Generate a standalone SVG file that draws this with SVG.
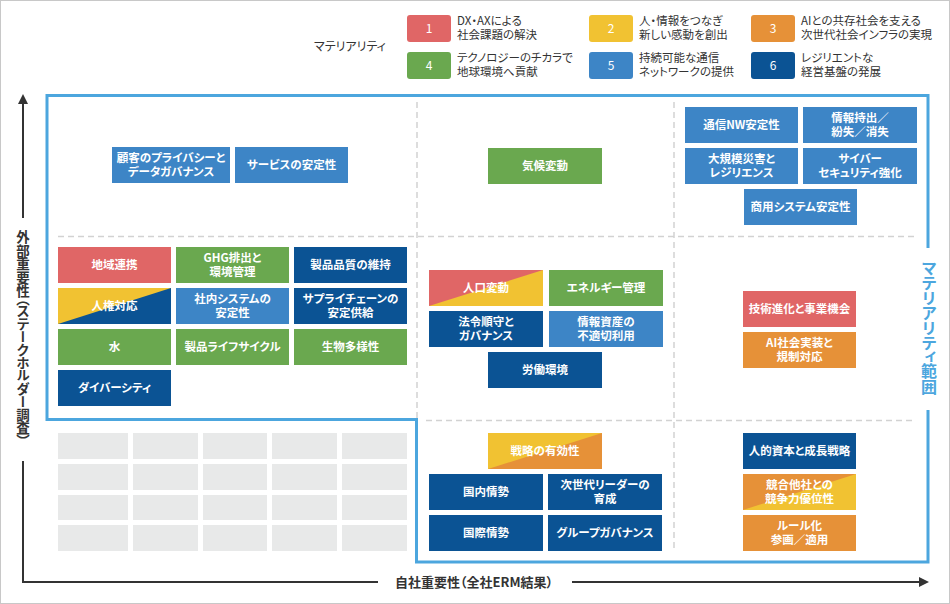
<svg xmlns="http://www.w3.org/2000/svg" width="950" height="604" viewBox="0 0 950 604">
<style>
text{font-family:"Noto Sans CJK JP","Noto Sans",sans-serif;font-feature-settings:"palt"}
.t{font-size:11.5px;font-weight:bold;fill:#fff;text-anchor:middle}
.lg{font-size:11.5px;fill:#333}
.ln{font-size:12px;fill:#fff;text-anchor:middle}
.r{fill:#e06666}.y{fill:#f1c232}.o{fill:#e69138}.g{fill:#6aa84f}.b{fill:#3d85c6}.d{fill:#0b5394}
.gr{fill:#e8e9e9}
.dash{stroke:#d2d2d2;stroke-width:1.5;stroke-dasharray:6 4;fill:none}
.ax{stroke:#333;stroke-width:2;fill:none}
.vt{writing-mode:vertical-rl;font-feature-settings:"vpal";text-anchor:middle;font-weight:bold}
</style>
<defs>
<marker id="arr" viewBox="0 0 10 10" markerUnits="userSpaceOnUse" markerWidth="10" markerHeight="10" refX="4" refY="5" orient="auto">
<path d="M0,0 L10,5 L0,10 z" fill="#333"/>
</marker>
</defs>
<rect x="0.5" y="0.5" width="949" height="603" fill="#fff" stroke="#c8c8c8"/>

<g id="legend">
<text class="lg" x="314" y="51" style="font-size:12px">マテリアリティ</text>
<rect class="r" x="407" y="15" width="44" height="27" rx="3"/><text class="ln" x="429" y="33">1</text>
<text class="lg" x="457" y="25">DX・AXによる</text><text class="lg" x="457" y="39">社会課題の解決</text>
<rect class="y" x="589" y="15" width="44" height="27" rx="3"/><text class="ln" x="611" y="33">2</text>
<text class="lg" x="639" y="25">人・情報をつなぎ</text><text class="lg" x="639" y="39">新しい感動を創出</text>
<rect class="o" x="751" y="15" width="44" height="27" rx="3"/><text class="ln" x="773" y="33">3</text>
<text class="lg" x="801" y="25">AIとの共存社会を支える</text><text class="lg" x="801" y="39">次世代社会インフラの実現</text>
<rect class="g" x="407" y="52" width="44" height="27" rx="3"/><text class="ln" x="429" y="70">4</text>
<text class="lg" x="457" y="62">テクノロジーのチカラで</text><text class="lg" x="457" y="76">地球環境へ貢献</text>
<rect class="b" x="589" y="52" width="44" height="27" rx="3"/><text class="ln" x="611" y="70">5</text>
<text class="lg" x="639" y="62">持続可能な通信</text><text class="lg" x="639" y="76">ネットワークの提供</text>
<rect class="d" x="751" y="52" width="44" height="27" rx="3"/><text class="ln" x="773" y="70">6</text>
<text class="lg" x="801" y="62">レジリエントな</text><text class="lg" x="801" y="76">経営基盤の発展</text>
</g>

<g id="grid">
<path class="dash" d="M417,102 V552 M674,102 V552 M58,236.5 H918 M426,420.5 H912"/>
</g>

<g id="frame">
<path d="M928,248 V95.5 H47 V419.5 H416.5 V562 H928 V410" fill="none" stroke="#4ca6de" stroke-width="3"/>
<text class="vt" x="929" y="328" style="font-size:16px;fill:#4ca6de">マテリアリティ範囲</text>
</g>

<g id="axes">
<path class="ax" d="M23,218 V100" marker-end="url(#arr)"/>
<path class="ax" d="M23,461 V582 H378"/>
<path class="ax" d="M572,582 H923" marker-end="url(#arr)"/>
<text class="vt" x="23" y="336" style="font-size:13.5px;fill:#333">外部重要性（ステークホルダー調査）</text>
<text x="474" y="587" style="font-size:13px;font-weight:bold;fill:#333;text-anchor:middle">自社重要性（全社ERM結果）</text>
</g>

<g id="placeholders">
<rect class="gr" x="58" y="433" width="70" height="26"/><rect class="gr" x="133" y="433" width="65" height="26"/><rect class="gr" x="203" y="433" width="64" height="26"/><rect class="gr" x="272" y="433" width="65" height="26"/><rect class="gr" x="342" y="433" width="65" height="26"/>
<rect class="gr" x="58" y="464" width="70" height="26"/><rect class="gr" x="133" y="464" width="65" height="26"/><rect class="gr" x="203" y="464" width="64" height="26"/><rect class="gr" x="272" y="464" width="65" height="26"/><rect class="gr" x="342" y="464" width="65" height="26"/>
<rect class="gr" x="58" y="495" width="70" height="25"/><rect class="gr" x="133" y="495" width="65" height="25"/><rect class="gr" x="203" y="495" width="64" height="25"/><rect class="gr" x="272" y="495" width="65" height="25"/><rect class="gr" x="342" y="495" width="65" height="25"/>
<rect class="gr" x="58" y="525" width="70" height="26"/><rect class="gr" x="133" y="525" width="65" height="26"/><rect class="gr" x="203" y="525" width="64" height="26"/><rect class="gr" x="272" y="525" width="65" height="26"/><rect class="gr" x="342" y="525" width="65" height="26"/>
</g>

<g id="nodes">
<g id="n-privacy"><rect class="b" x="112" y="147" width="118" height="36"/><text class="t" x="171" y="162">顧客のプライバシーと</text><text class="t" x="171" y="176">データガバナンス</text></g>
<g id="n-service"><rect class="b" x="235" y="147" width="113" height="36"/><text class="t" x="291.5" y="169">サービスの安定性</text></g>

<g id="n-region"><rect class="r" x="58" y="247" width="113" height="36"/><text class="t" x="114.5" y="269">地域連携</text></g>
<g id="n-ghg"><rect class="g" x="176" y="247" width="113" height="36"/><text class="t" x="232.5" y="262">GHG排出と</text><text class="t" x="232.5" y="276">環境管理</text></g>
<g id="n-quality"><rect class="d" x="294" y="247" width="113" height="36"/><text class="t" x="350.5" y="269">製品品質の維持</text></g>
<g id="n-human-rights"><rect class="d" x="58" y="288" width="113" height="36"/><polygon class="y" points="58,288 171,288 58,324"/><text class="t" x="114.5" y="310">人権対応</text></g>
<g id="n-internal-sys"><rect class="b" x="176" y="288" width="113" height="36"/><text class="t" x="232.5" y="303">社内システムの</text><text class="t" x="232.5" y="317">安定性</text></g>
<g id="n-supply"><rect class="d" x="294" y="288" width="113" height="36"/><text class="t" x="350.5" y="303">サプライチェーンの</text><text class="t" x="350.5" y="317">安定供給</text></g>
<g id="n-water"><rect class="g" x="58" y="329" width="113" height="36"/><text class="t" x="114.5" y="351">水</text></g>
<g id="n-lifecycle"><rect class="g" x="176" y="329" width="113" height="36"/><text class="t" x="232.5" y="351">製品ライフサイクル</text></g>
<g id="n-biodiversity"><rect class="g" x="294" y="329" width="113" height="36"/><text class="t" x="350.5" y="351">生物多様性</text></g>
<g id="n-diversity"><rect class="d" x="58" y="370" width="113" height="36"/><text class="t" x="114.5" y="392">ダイバーシティ</text></g>

<g id="n-climate"><rect class="g" x="488" y="148" width="114" height="36"/><text class="t" x="545" y="170">気候変動</text></g>

<g id="n-nw"><rect class="b" x="685" y="107" width="113" height="36"/><text class="t" x="741.5" y="129">通信NW安定性</text></g>
<g id="n-info-loss"><rect class="b" x="803" y="107" width="114" height="36"/><text class="t" x="860" y="122">情報持出／</text><text class="t" x="860" y="136">紛失／消失</text></g>
<g id="n-disaster"><rect class="b" x="685" y="148" width="113" height="36"/><text class="t" x="741.5" y="163">大規模災害と</text><text class="t" x="741.5" y="177">レジリエンス</text></g>
<g id="n-cyber"><rect class="b" x="803" y="148" width="114" height="36"/><text class="t" x="860" y="163">サイバー</text><text class="t" x="860" y="177">セキュリティ強化</text></g>
<g id="n-commercial"><rect class="b" x="744" y="189" width="113" height="36"/><text class="t" x="800.5" y="211">商用システム安定性</text></g>

<g id="n-population"><rect class="y" x="429" y="270" width="114" height="36"/><polygon class="r" points="429,270 543,270 429,306"/><text class="t" x="486" y="292">人口変動</text></g>
<g id="n-energy"><rect class="g" x="549" y="270" width="114" height="36"/><text class="t" x="606" y="292">エネルギー管理</text></g>
<g id="n-compliance"><rect class="d" x="429" y="311" width="114" height="36"/><text class="t" x="486" y="326">法令順守と</text><text class="t" x="486" y="340">ガバナンス</text></g>
<g id="n-info-misuse"><rect class="b" x="549" y="311" width="114" height="36"/><text class="t" x="606" y="326">情報資産の</text><text class="t" x="606" y="340">不適切利用</text></g>
<g id="n-labor"><rect class="d" x="488" y="352" width="114" height="36"/><text class="t" x="545" y="374">労働環境</text></g>

<g id="n-tech"><rect class="r" x="743" y="291" width="113" height="36"/><text class="t" x="799.5" y="313">技術進化と事業機会</text></g>
<g id="n-ai"><rect class="o" x="743" y="332" width="113" height="36"/><text class="t" x="799.5" y="347">AI社会実装と</text><text class="t" x="799.5" y="361">規制対応</text></g>

<g id="n-strategy"><rect class="o" x="488" y="433" width="114" height="36"/><polygon class="y" points="488,433 602,433 488,469"/><text class="t" x="545" y="455">戦略の有効性</text></g>
<g id="n-domestic"><rect class="d" x="429" y="474" width="114" height="36"/><text class="t" x="486" y="496">国内情勢</text></g>
<g id="n-leader"><rect class="d" x="548" y="474" width="114" height="36"/><text class="t" x="605" y="489">次世代リーダーの</text><text class="t" x="605" y="503">育成</text></g>
<g id="n-international"><rect class="d" x="429" y="515" width="114" height="36"/><text class="t" x="486" y="537">国際情勢</text></g>
<g id="n-group-gov"><rect class="d" x="548" y="515" width="114" height="36"/><text class="t" x="605" y="537">グループガバナンス</text></g>

<g id="n-human-capital"><rect class="d" x="743" y="433" width="113" height="36"/><text class="t" x="799.5" y="455">人的資本と成長戦略</text></g>
<g id="n-competition"><rect class="y" x="743" y="474" width="113" height="36"/><polygon class="o" points="743,474 856,474 743,510"/><text class="t" x="799.5" y="489">競合他社との</text><text class="t" x="799.5" y="503">競争力優位性</text></g>
<g id="n-rules"><rect class="o" x="743" y="515" width="113" height="36"/><text class="t" x="799.5" y="530">ルール化</text><text class="t" x="799.5" y="544">参画／適用</text></g>
</g>
</svg>
